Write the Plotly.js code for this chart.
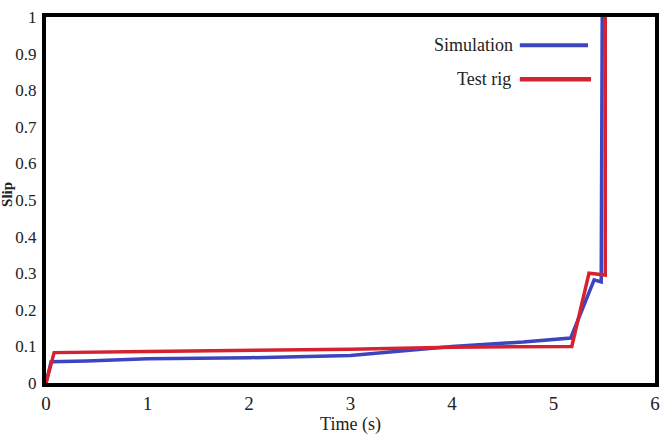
<!DOCTYPE html>
<html><head><meta charset="utf-8">
<script src="https://cdn.plot.ly/plotly-3.0.1.min.js"></script>
</head><body style="margin:0"><div id="chart"></div>
<script>
const simTime = [0, 0.05, 0.4, 1, 2, 3, 4, 4.7, 5.17, 5.40, 5.47, 5.48];
const simSlip = [0, 0.058, 0.060, 0.066, 0.069, 0.075, 0.100, 0.112, 0.123, 0.282, 0.276, 1.0];
const rigTime = [0, 0.08, 1, 2, 3, 4, 5.18, 5.35, 5.51, 5.51];
const rigSlip = [0, 0.083, 0.086, 0.088, 0.092, 0.098, 0.100, 0.300, 0.295, 1.0];
const seriesNames = ["Simulation", "Test rig"];
const seriesColors = ["#3d44c0", "#d42230"];
const xTicks = [0, 1, 2, 3, 4, 5, 6];
const yTicks = [0, 0.1, 0.2, 0.3, 0.4, 0.5, 0.6, 0.7, 0.8, 0.9, 1];

const font = "Liberation Serif";
const traces = [
  {x: simTime, y: simSlip, mode: "lines", name: seriesNames[0], line: {color: seriesColors[0], width: 3.5}},
  {x: rigTime, y: rigSlip, mode: "lines", name: seriesNames[1], line: {color: seriesColors[1], width: 3.5}}
];
const layout = {
  width: 660, height: 439,
  margin: {l: 46, r: 5, t: 17, b: 56},
  showlegend: false,
  paper_bgcolor: "#fff", plot_bgcolor: "#fff",
  font: {family: font, size: 18, color: "#222"},
  xaxis: {range: [0, 6], tickvals: xTicks, ticktext: xTicks.map(String), showgrid: false, zeroline: false,
    showline: true, mirror: true, linecolor: "#000", linewidth: 4, ticks: "", ticklabelstandoff: 0,
    tickfont: {family: font, size: 19, color: "#222"},
    title: {text: "Time (s)", font: {family: font, size: 18, color: "#222"}, standoff: 5}},
  yaxis: {range: [0, 1], tickvals: yTicks, ticktext: yTicks.map(v => String(v)), showgrid: false, zeroline: false,
    showline: true, mirror: true, linecolor: "#000", linewidth: 4, ticks: "", ticklabelstandoff: 2,
    tickfont: {family: font, size: 17, color: "#222"}},
  annotations: [
    {xref: "paper", yref: "paper", x: -0.064, y: 0.514, xanchor: "center", yanchor: "middle", textangle: -90, showarrow: false,
     text: "<b>Slip</b>", font: {family: font, size: 15, color: "#222"}},
    {xref: "paper", yref: "paper", x: 0.770, y: 0.923, xanchor: "right", yanchor: "middle", showarrow: false,
     text: seriesNames[0], font: {family: font, size: 18, color: "#222"}},
    {xref: "paper", yref: "paper", x: 0.767, y: 0.830, xanchor: "right", yanchor: "middle", showarrow: false,
     text: seriesNames[1], font: {family: font, size: 18, color: "#222"}}
  ],
  shapes: [
    {type: "line", xref: "paper", yref: "paper", x0: 0.778, x1: 0.89, y0: 0.923, y1: 0.923, line: {color: seriesColors[0], width: 4}},
    {type: "line", xref: "paper", yref: "paper", x0: 0.778, x1: 0.895, y0: 0.830, y1: 0.830, line: {color: seriesColors[1], width: 4.5}}
  ]
};
Plotly.newPlot("chart", traces, layout, {displayModeBar: false});
</script></body></html>
